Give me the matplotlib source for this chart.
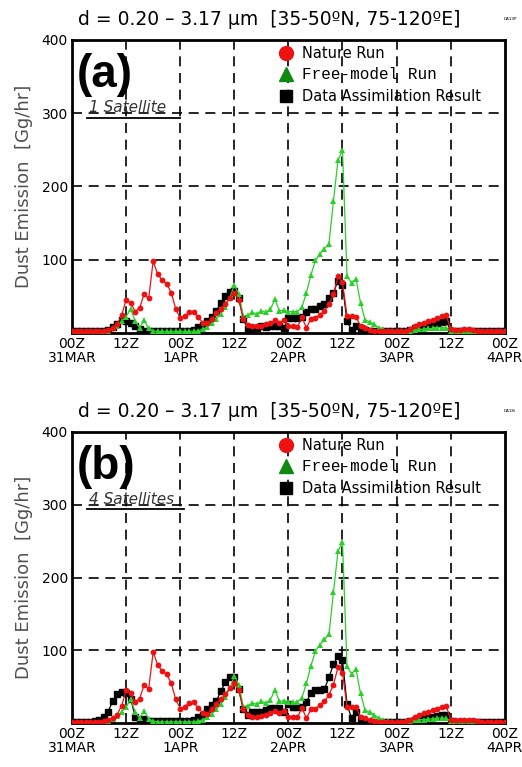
import numpy as np
import matplotlib
matplotlib.use("Agg")
import matplotlib.pyplot as plt
from matplotlib.lines import Line2D

# hourly values, 00Z 31MAR .. 00Z 4APR
hours = np.arange(97)

nature_run = [2, 2, 2, 2, 2, 2, 2, 3, 4, 7, 12, 24, 45, 41, 29, 34, 53, 47, 98, 80,
              72, 67, 55, 33, 20, 23, 28, 29, 21, 14, 13, 19, 27, 33, 40, 48, 55, 45, 19, 11,
              9, 9, 10, 12, 14, 17, 14, 17, 9, 9, 8, 21, 7, 19, 20, 25, 30, 39, 53, 77,
              69, 23, 23, 22, 9, 7, 4, 3, 2, 2, 2, 2, 2, 2, 3, 5, 9, 12, 14, 16,
              18, 20, 23, 24, 5, 4, 4, 5, 5, 4, 3, 2, 2, 2, 2, 2, 2]

free_run = [1, 1, 1, 1, 1, 1, 1, 2, 3, 6, 10, 16, 22, 33, 16, 7, 17, 6, 3, 2,
            2, 2, 2, 2, 2, 2, 2, 2, 3, 5, 8, 13, 19, 26, 36, 48, 65, 53, 23, 24,
            28, 26, 30, 28, 32, 46, 30, 31, 29, 29, 29, 35, 55, 79, 99, 108, 115, 122, 180, 236,
            249, 78, 68, 74, 41, 18, 15, 12, 7, 5, 3, 2, 2, 2, 2, 3, 4, 5, 5, 6,
            6, 7, 7, 7, 3, 2, 2, 2, 2, 2, 2, 1, 1, 1, 1, 1, 1]

da_1sat = [3, 3, 2, 2, 2, 2, 3, 3, 4, 8, 12, 17, 16, 14, 10, 5, 3, 3, 3, 3,
           3, 3, 3, 3, 3, 3, 3, 4, 8, 11, 16, 22, 30, 41, 50, 56, 57, 48, 19, 5,
           7, 6, 9, 8, 10, 10, 9, 7, 20, 20, 20, 21, 28, 32, 33, 37, 39, 48, 55, 71,
           65, 16, 4, 9, 7, 4, 3, 3, 2, 2, 2, 2, 2, 2, 3, 4, 6, 8, 10, 11,
           13, 14, 15, 16, 3, 2, 2, 2, 2, 2, 2, 2, 2, 2, 2, 2, 2]

da_4sat = [2, 2, 2, 2, 2, 3, 4, 8, 16, 30, 40, 43, 42, 34, 9, 5, 6, 3, 3, 3,
           3, 3, 3, 3, 3, 3, 3, 4, 8, 12, 19, 25, 30, 44, 56, 63, 64, 47, 19, 12,
           15, 15, 16, 18, 21, 21, 21, 16, 26, 23, 23, 23, 29, 42, 45, 45, 47, 63, 81, 93,
           87, 26, 7, 16, 5, 2, 2, 2, 2, 2, 2, 2, 2, 2, 2, 3, 4, 6, 7, 8,
           9, 10, 11, 12, 3, 2, 2, 2, 2, 2, 2, 2, 2, 2, 2, 2, 2]

tick_hours = [0, 12, 24, 36, 48, 60, 72, 84, 96]
tick_labels = ["00Z\n31MAR", "12Z", "00Z\n1APR", "12Z", "00Z\n2APR",
               "12Z", "00Z\n3APR", "12Z", "00Z\n4APR"]

title = "d = 0.20 \u2013 3.17 \u03bcm  [35-50\u00baN, 75-120\u00baE]"
panels = [("(a)", "1 Satellite", da_1sat, "DA13P"),
          ("(b)", "4 Satellites", da_4sat, "DA18i")]

fig = plt.figure(figsize=(5.22, 7.67), dpi=100)
# axes boxes in figure fraction
boxes = [[0.138, 0.566, 0.829, 0.382], [0.138, 0.057, 0.829, 0.380]]
title_y = [0.975, 0.464]

for k, (letter, sat, da, tag) in enumerate(panels):
    ax = fig.add_axes(boxes[k])
    ax.plot(hours, da, color="black", lw=0.9, marker="s", ms=3.8, zorder=3)
    ax.plot(hours, free_run, color="#2ad02a", lw=0.9, marker="^", ms=4.2,
            markeredgewidth=0, zorder=4)
    ax.plot(hours, nature_run, color="#ee1111", lw=0.9, marker="o", ms=4.2,
            markeredgewidth=0, zorder=5)

    ax.set_xlim(0, 96)
    ax.set_ylim(0, 400)
    ax.set_xticks(tick_hours)
    ax.set_xticklabels(tick_labels, fontsize=10, linespacing=1.0)
    ax.set_yticks([100, 200, 300, 400])
    ax.set_yticklabels(["100", "200", "300", "400"], fontsize=10)
    ax.tick_params(length=0, pad=3)
    for s in ax.spines.values():
        s.set_linewidth(2)
    for h in tick_hours[1:-1]:
        ax.axvline(h, color="black", lw=1.2, ls=(0, (6, 4)), zorder=1)
    for v in [100, 200, 300]:
        ax.axhline(v, color="black", lw=1.2, ls=(0, (6, 4)), zorder=1)

    ax.set_ylabel("Dust Emission  [Gg/hr]", fontsize=13, color="#505050", labelpad=6)

    ax.text(0.012, 0.88, letter, transform=ax.transAxes, fontsize=33,
            fontweight="bold", family="Liberation Sans", va="center", ha="left")
    ax.text(0.04, 0.768, sat, transform=ax.transAxes, fontsize=11,
            style="italic", color="#333333", va="center", ha="left")
    ax.plot([0.035, 0.25 if k == 0 else 0.258], [0.735, 0.735], transform=ax.transAxes,
            color="black", lw=1.3, clip_on=False)

    handles = [Line2D([], [], color="#ee1111", marker="o", ms=10, ls="none"),
               Line2D([], [], color="#118811", marker="^", ms=10, ls="none"),
               Line2D([], [], color="black", marker="s", ms=9, ls="none")]
    leg = ax.legend(handles, ["Nature Run", "Free-model Run", "Data Assimilation Result"],
                    loc="upper left", bbox_to_anchor=(0.455, 1.01), frameon=False,
                    fontsize=10.5, handletextpad=0.45, labelspacing=0.45,
                    handlelength=1.2, borderaxespad=0.2)
    leg.get_texts()[1].set_family("Liberation Mono")
    leg.get_texts()[1].set_fontsize(11.5)

    fig.text(0.515, title_y[k], title, fontsize=13.5, ha="center", va="center")
    fig.text(0.965, title_y[k], tag, fontsize=3, ha="left", va="center")

fig.savefig("out.png", dpi=100)
